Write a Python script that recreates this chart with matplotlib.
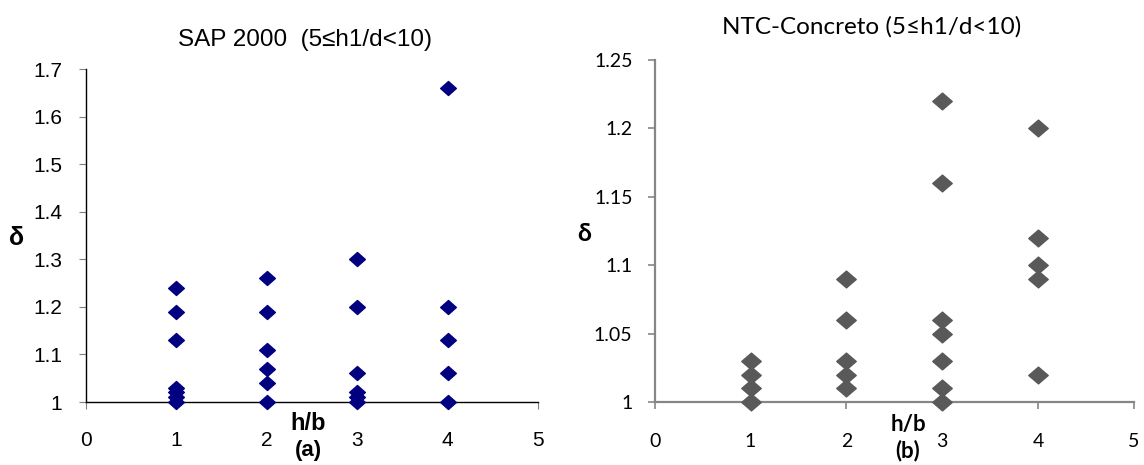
import matplotlib
matplotlib.use("Agg")
import matplotlib.pyplot as plt
from matplotlib.path import Path
from matplotlib.markers import MarkerStyle

# ---- data ----
sap_x = [1, 1, 1, 1, 1, 1, 1,
         2, 2, 2, 2, 2, 2,
         3, 3, 3, 3, 3, 3,
         4, 4, 4, 4, 4]
sap_y = [1.24, 1.19, 1.13, 1.03, 1.02, 1.01, 1.00,
         1.26, 1.19, 1.11, 1.07, 1.04, 1.00,
         1.30, 1.20, 1.06, 1.02, 1.01, 1.00,
         1.66, 1.20, 1.13, 1.06, 1.00]

ntc_x = [1, 1, 1, 1,
         2, 2, 2, 2, 2,
         3, 3, 3, 3, 3, 3, 3,
         4, 4, 4, 4, 4]
ntc_y = [1.03, 1.02, 1.01, 1.00,
         1.09, 1.06, 1.03, 1.02, 1.01,
         1.22, 1.16, 1.06, 1.05, 1.03, 1.01, 1.00,
         1.20, 1.12, 1.10, 1.09, 1.02]

x_ticks = [0, 1, 2, 3, 4, 5]
x_ticklabels = ["0", "1", "2", "3", "4", "5"]
sap_yticks = [1.0, 1.1, 1.2, 1.3, 1.4, 1.5, 1.6, 1.7]
sap_yticklabels = ["1", "1.1", "1.2", "1.3", "1.4", "1.5", "1.6", "1.7"]
ntc_yticks = [1.0, 1.05, 1.1, 1.15, 1.2, 1.25]
ntc_yticklabels = ["1", "1.05", "1.1", "1.15", "1.2", "1.25"]

title_a = "SAP 2000  (5\u2264h1/d<10)"
title_b = "NTC-Concreto (5\u2264h1/d<10)"

W, H = 1144, 465
fig = plt.figure(figsize=(W / 100, H / 100), dpi=100)


def diamond(r):
    v = [(-r, 0), (0, 1), (r, 0), (0, -1), (-r, 0)]
    c = [Path.MOVETO, Path.LINETO, Path.LINETO, Path.LINETO, Path.CLOSEPOLY]
    return MarkerStyle(Path(v, c))


def px_axes(x0, x1, ytop, ybot):
    return [x0 / W, 1 - ybot / H, (x1 - x0) / W, (ybot - ytop) / H]


# ---- left panel ----
fa = ["Liberation Sans", "DejaVu Sans"]
axa = fig.add_axes(px_axes(85.7, 538, 69, 402))
axa.plot(sap_x, sap_y, linestyle="none", marker=diamond(1.12), ms=11.3,
         color="#000080", mec="#000080", clip_on=False, zorder=3)
axa.set_xlim(0, 5)
axa.set_ylim(1.0, 1.7)
axa.set_xticks(x_ticks)
axa.set_xticklabels(x_ticklabels, family=fa, fontsize=15)
axa.set_yticks(sap_yticks)
axa.set_yticklabels(sap_yticklabels, family=fa, fontsize=15)
for s in ["top", "right"]:
    axa.spines[s].set_visible(False)
for s in ["left", "bottom"]:
    axa.spines[s].set_color("black")
    axa.spines[s].set_linewidth(1.0)
axa.tick_params(axis="y", direction="out", length=5, width=0.8, color="#808080", pad=12)
axa.tick_params(axis="x", direction="out", length=5, width=0.8, color="#808080", pad=16)

fig.text(305 / W, 1 - 40 / H, title_a, family=fa, fontsize=17.5, ha="center", va="center")
fig.text(17 / W, 1 - 238 / H, "\u03b4", family=fa, fontsize=18, fontweight="bold",
         ha="center", va="center")
fig.text(308 / W, 1 - 423 / H, "h/b", family=fa, fontsize=17, fontweight="bold",
         ha="center", va="center")
fig.text(308 / W, 1 - 450 / H, "(a)", family=fa, fontsize=16, fontweight="bold",
         ha="center", va="center")

# ---- right panel ----
fb = ["Lato", "DejaVu Sans"]
grey = "#868686"
axb = fig.add_axes(px_axes(654.7, 1134, 60, 402))
axb.plot(ntc_x, ntc_y, linestyle="none", marker=diamond(1.16), ms=14,
         color="#595959", mec="#595959", clip_on=False, zorder=3)
axb.set_xlim(0, 5)
axb.set_ylim(1.0, 1.25)
axb.set_xticks(x_ticks)
axb.set_xticklabels(x_ticklabels, family=fb, fontsize=14)
axb.set_yticks(ntc_yticks)
axb.set_yticklabels(ntc_yticklabels, family=fb, fontsize=14)
for s in ["top", "right"]:
    axb.spines[s].set_visible(False)
for s in ["left", "bottom"]:
    axb.spines[s].set_color(grey)
    axb.spines[s].set_linewidth(1.6)
axb.tick_params(axis="y", direction="out", length=5, width=1.2, color=grey, pad=11)
axb.tick_params(axis="x", direction="out", length=5, width=1.2, color=grey, pad=17)

fig.text(872 / W, 1 - 27 / H, title_b, family=fb, fontsize=17.5, ha="center", va="center")
fig.text(584 / W, 1 - 233 / H, "\u03b4", family=fb, fontsize=18, fontweight="bold",
         ha="center", va="center")
fig.text(908 / W, 1 - 424 / H, "h/b", family=fb, fontsize=16, fontweight="bold",
         ha="center", va="center")
fig.text(908 / W, 1 - 451 / H, "(b)", family=fb, fontsize=16, fontweight="bold",
         ha="center", va="center")

fig.savefig("out.png", dpi=100)
